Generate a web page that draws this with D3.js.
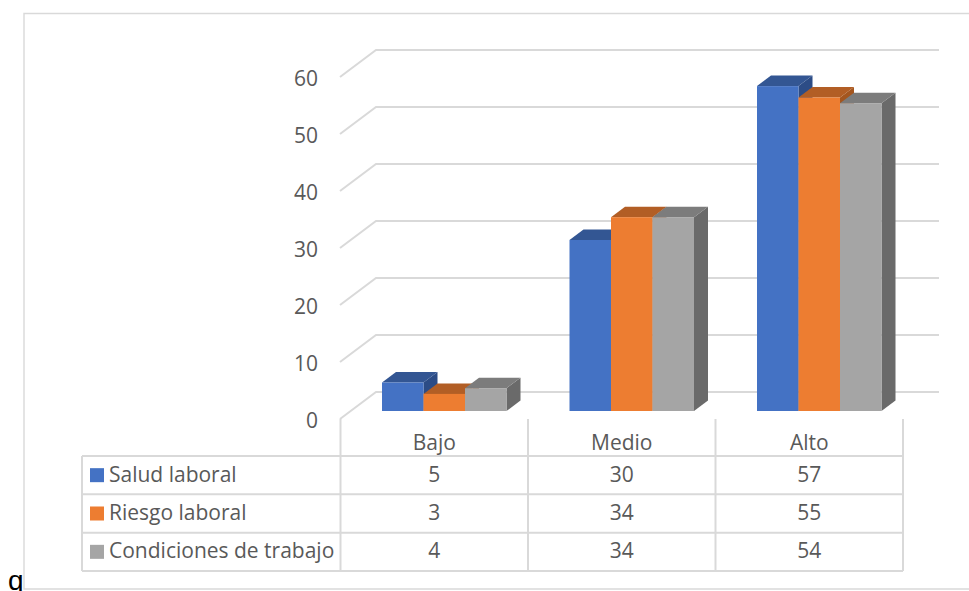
<!DOCTYPE html>
<html><head><meta charset="utf-8">
<script src="https://cdnjs.cloudflare.com/ajax/libs/d3/7.8.5/d3.min.js"></script>
<style>html,body{margin:0;padding:0;background:#fff}svg{display:block}</style>
</head><body><svg id="c" width="969" height="591"></svg>
<script>
const categories = ["Bajo","Medio","Alto"];
const seriesNames = ["Salud laboral","Riesgo laboral","Condiciones de trabajo"];
const saludLaboral = [5,30,57];
const riesgoLaboral = [3,34,55];
const condicionesTrabajo = [4,34,54];
const seriesValues = [saludLaboral,riesgoLaboral,condicionesTrabajo];
const yTicks = [0,10,20,30,40,50,60];
const frontColors = ["#4472C4","#ED7D31","#A5A5A5"];
const topColors = ["#335693","#B25E25","#7C7C7C"];
const sideColors = ["#2C4C86","#A4561F","#6A6A6A"];

const svg = d3.select("#c");
const FONT = "'Open Sans', sans-serif", TXT = "#595959", LINE = "#d9d9d9", FS = 21;
const x0 = d3.scaleBand().domain(categories).range([340.5,903]);
const x1 = d3.scaleBand().domain(d3.range(3)).range([41.5,166]);
const y = d3.scaleLinear().domain([0,60]).range([419,77]);
const wallDx = 36, wallDy = -27, barDx = 14, barDy = -10.5, barLift = 8;

// frame
const frame = svg.append("g").attr("fill","none").attr("stroke",LINE).attr("stroke-width",1.4);
frame.append("path").attr("d","M969,13.5H24V589H969");

// gridlines
const grid = svg.append("g").attr("fill","none").attr("stroke",LINE).attr("stroke-width",2);
grid.selectAll("path").data(yTicks).join("path")
  .attr("d",v=>`M340,${y(v)}L${340+wallDx},${y(v)+wallDy}H939`);

// axis labels
const axis = svg.append("g").attr("transform","translate(318,2)")
  .call(d3.axisLeft(y).tickValues(yTicks).tickSize(0).tickPadding(0));
axis.select(".domain").remove();
axis.selectAll("text").attr("font-family",FONT).attr("font-size",FS).attr("fill",TXT);

// bars: left to right so each bar hides the side of the previous one
categories.forEach((cat,ci)=>{
  const g = svg.append("g");
  seriesValues.forEach((vals,si)=>{
    const l = x0(cat)+x1(si), w = x1.bandwidth(), b = y(0)-barLift, t = y(vals[ci])-barLift, r = l+w;
    g.append("path").attr("fill",sideColors[si])
      .attr("d",`M${r},${t}l${barDx},${barDy}V${b+barDy}L${r},${b}Z`);
    g.append("path").attr("fill",topColors[si])
      .attr("d",`M${l},${t}l${barDx},${barDy}H${r+barDx}L${r},${t}Z`);
    g.append("rect").attr("x",l).attr("y",t).attr("width",w).attr("height",b-t).attr("fill",frontColors[si]);
  });
});

// data table
const rowY = d3.scalePoint().domain(d3.range(4)).range([456,571]);
const tbl = svg.append("g").attr("fill","none").attr("stroke",LINE).attr("stroke-width",2);
rowY.domain().forEach(i=>tbl.append("path").attr("d",`M82,${rowY(i)}H903`));
tbl.append("path").attr("d",`M82,456V571`);
[...categories.map(c=>x0(c)),903].forEach(x=>tbl.append("path").attr("d",`M${x},419V571`));

const text = (x,yy,s,anchor)=>svg.append("text").attr("x",x).attr("y",yy).attr("text-anchor",anchor)
  .attr("font-family",FONT).attr("font-size",FS).attr("fill",TXT).text(s);
categories.forEach(c=>text(x0(c)+x0.bandwidth()/2,449.5,c,"middle"));
seriesNames.forEach((n,si)=>{
  const cy = (rowY(si)+rowY(si+1))/2;
  svg.append("rect").attr("x",90).attr("y",cy-7).attr("width",14).attr("height",14).attr("fill",frontColors[si]);
  text(109,cy+6.5,n,"start");
  categories.forEach((c,ci)=>text(x0(c)+x0.bandwidth()/2,cy+6.5,seriesValues[si][ci],"middle"));
});

// stray letter in the lower-left corner, cut by the page edge as in the reference
svg.append("text").attr("x",8).attr("y",589.5).attr("font-family","'Liberation Sans',Arial,sans-serif")
  .attr("font-size",28).attr("fill","#000").text("q");
</script></body></html>
